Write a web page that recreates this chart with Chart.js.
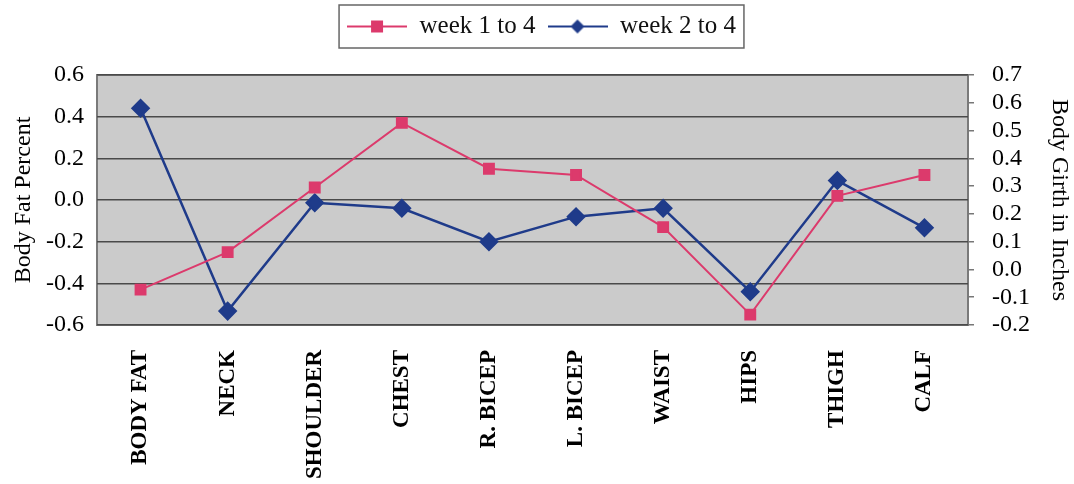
<!DOCTYPE html>
<html>
<head>
<meta charset="utf-8">
<script src="https://cdn.jsdelivr.net/npm/chart.js@4"></script>
<style>
  html, body { margin: 0; padding: 0; background: #fff; }
  #wrap { width: 1074px; height: 484px; position: relative; }
</style>
</head>
<body>
<div id="wrap"><canvas id="chart"></canvas></div>
<script>
// data
const parts = ["BODY FAT", "NECK", "SHOULDER", "CHEST", "R. BICEP", "L. BICEP", "WAIST", "HIPS", "THIGH", "CALF"];
const week1to4 = [-0.43, -0.25, 0.06, 0.37, 0.15, 0.12, -0.13, -0.55, 0.02, 0.12];   // left axis
const week2to4 = [0.58, -0.15, 0.24, 0.22, 0.10, 0.19, 0.22, -0.08, 0.32, 0.15];     // right axis
const seriesNames = ["week 1 to 4", "week 2 to 4"];

const PINK = "#dc3a6c";
const BLUE = "#1f3b8a";
const FONT = "'Liberation Serif', 'DejaVu Serif', serif";

// legend icon: line with marker on it
function legendIcon(color, diamond) {
    const c = document.createElement("canvas");
    c.width = 60; c.height = 20;
    const g = c.getContext("2d");
    g.strokeStyle = color; g.lineWidth = 2;
    g.beginPath(); g.moveTo(0, 10); g.lineTo(60, 10); g.stroke();
    g.fillStyle = color;
    if (diamond) {
        g.beginPath(); g.moveTo(30, 3); g.lineTo(37, 10); g.lineTo(30, 17); g.lineTo(23, 10); g.closePath(); g.fill();
    } else {
        g.fillRect(24, 4, 12, 12);
    }
    return c;
}
const icons = [legendIcon(PINK, false), legendIcon(BLUE, true)];

const fmt = v => (Math.abs(v) < 1e-9 ? 0 : v).toFixed(1);

const plotBg = {
    id: "plotBg",
    beforeDraw(chart) {
        const { ctx, chartArea: a } = chart;
        ctx.save();
        ctx.fillStyle = "#cbcbcb";
        ctx.fillRect(a.left, a.top, a.right - a.left, a.bottom - a.top);
        ctx.strokeStyle = "#7a7a7a";
        ctx.lineWidth = 2;
        ctx.strokeRect(a.left, a.top, a.right - a.left, a.bottom - a.top);
        ctx.restore();
    },
    afterDraw(chart) {
        const lg = chart.legend;
        if (!lg || !lg.legendHitBoxes.length) return;
        const boxes = lg.legendHitBoxes;
        const l = Math.min(...boxes.map(b => b.left)) - 8;
        const r = Math.max(...boxes.map(b => b.left + b.width)) + 8;
        const ctx = chart.ctx;
        ctx.save();
        ctx.strokeStyle = "#666";
        ctx.lineWidth = 1.5;
        ctx.strokeRect(l, 5, r - l, 43);
        ctx.restore();
    }
};

new Chart(document.getElementById("chart"), {
    type: "line",
    data: {
        labels: parts,
        datasets: [{
            label: seriesNames[0],
            data: week1to4,
            yAxisID: "y",
            borderColor: PINK,
            backgroundColor: PINK,
            borderWidth: 2,
            pointStyle: "rect",
            pointRadius: 7,
            pointHoverRadius: 7,
            tension: 0
        }, {
            label: seriesNames[1],
            data: week2to4,
            yAxisID: "y1",
            borderColor: BLUE,
            backgroundColor: BLUE,
            borderWidth: 2.5,
            pointStyle: "rectRot",
            pointRadius: 8,
            pointHoverRadius: 8,
            tension: 0
        }]
    },
    options: {
        responsive: true,
        maintainAspectRatio: false,
        animation: false,
        layout: { padding: { top: 2, left: 9, right: 0, bottom: 0 } },
        plugins: {
            tooltip: { enabled: false },
            // empty title used as a gap between legend and plot
            title: {
                display: true,
                text: " ",
                font: { size: 10 },
                padding: { top: 0, bottom: 14 }
            },
            legend: {
                position: "top",
                weight: 3000,
                labels: {
                    color: "#111",
                    font: { family: FONT, size: 25 },
                    usePointStyle: true,
                    pointStyleWidth: 60,
                    padding: 12,
                    generateLabels(chart) {
                        return chart.data.datasets.map((ds, i) => ({
                            text: ds.label,
                            pointStyle: icons[i],
                            fillStyle: ds.borderColor,
                            strokeStyle: ds.borderColor,
                            lineWidth: 0,
                            datasetIndex: i,
                            fontColor: "#111"
                        }));
                    }
                }
            }
        },
        scales: {
            x: {
                offset: true,
                grid: { display: false },
                border: { display: false },
                ticks: {
                    color: "#000",
                    font: { family: FONT, size: 23, weight: "bold" },
                    minRotation: 90,
                    maxRotation: 90,
                    autoSkip: false,
                    padding: 17
                },
                afterFit(s) { s.height = 159; }
            },
            y: {
                position: "left",
                min: -0.6,
                max: 0.6,
                border: { display: false },
                grid: { color: "#4a4a4a", lineWidth: 1.5, drawTicks: false },
                ticks: {
                    stepSize: 0.2,
                    autoSkip: false,
                    color: "#000",
                    font: { family: FONT, size: 24 },
                    padding: 13,
                    callback: fmt
                },
                title: {
                    display: true,
                    text: "Body Fat Percent",
                    color: "#000",
                    font: { family: FONT, size: 24 },
                    padding: 0
                },
                afterFit(s) { s.width = 88; }
            },
            y1: {
                position: "right",
                min: -0.2,
                max: 0.7,
                border: { display: false },
                grid: { drawOnChartArea: false, drawTicks: true, tickLength: 6, color: "#777", lineWidth: 1.5 },
                ticks: {
                    stepSize: 0.1,
                    autoSkip: false,
                    color: "#000",
                    font: { family: FONT, size: 24 },
                    padding: 18,
                    callback: fmt
                },
                title: {
                    display: true,
                    text: "Body Girth in Inches",
                    color: "#000",
                    font: { family: FONT, size: 24 },
                    padding: 0
                },
                afterFit(s) { s.width = 106; }
            }
        }
    },
    plugins: [plotBg]
});
</script>
</body>
</html>
